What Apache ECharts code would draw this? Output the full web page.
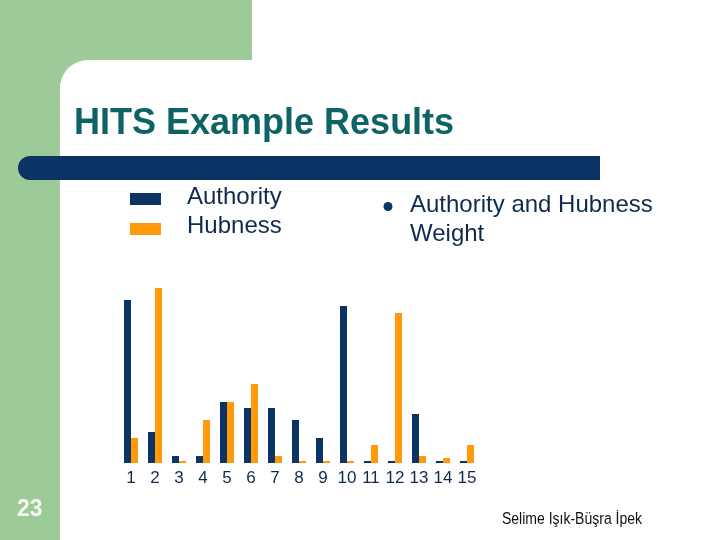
<!DOCTYPE html>
<html>
<head>
<meta charset="utf-8">
<script src="https://cdn.jsdelivr.net/npm/echarts@6/dist/echarts.min.js"></script>
<style>
html,body{margin:0;padding:0;background:#fff;}
#c{width:720px;height:540px;}
</style>
</head>
<body>
<div id="c"></div>
<script>
var categories = ['1','2','3','4','5','6','7','8','9','10','11','12','13','14','15'];
var authority = [163, 31, 7, 7, 61, 55, 55, 43, 25, 157, 2, 2, 49, 2, 2];
var hubness   = [25, 175, 2, 43, 61, 79, 7, 2, 2, 2, 18, 150, 7, 5, 18];
var seriesNames = ['Authority', 'Hubness'];
var titleText = 'HITS Example Results';
var bulletLines = ['Authority and Hubness', 'Weight'];
var pageNumber = '23';
var footerText = 'Selime Işık-Büşra İpek';

var NAVY = '#0B3363', ORANGE = '#FF9A0A', GREEN = '#9CCB99', TEAL = '#0E6464', TXT = '#102A4C';
var FONT = 'Liberation Sans';

function txt(x, y, s, size, color, weight, sy) {
  return {type: 'text', x: x, y: y, z: 10, scaleY: sy || 1, style: {
    text: s, fill: color, fontSize: size, fontWeight: weight || 'normal',
    fontFamily: FONT, align: 'left', verticalAlign: 'middle'
  }};
}

var chart = echarts.init(document.getElementById('c'));
chart.setOption({
  backgroundColor: '#fff',
  animation: false,
  grid: {left: 119, right: 241, top: 283, bottom: 77, containLabel: false},
  xAxis: {
    type: 'category', data: categories,
    axisLine: {show: false}, axisTick: {show: false},
    axisLabel: {color: TXT, fontSize: 17, fontFamily: FONT, margin: 7, interval: 0}
  },
  yAxis: {type: 'value', min: 0, max: 180, show: false, splitLine: {show: false}},
  series: [
    {name: seriesNames[0], type: 'bar', data: authority, barWidth: 7, barGap: '0%', itemStyle: {color: NAVY}},
    {name: seriesNames[1], type: 'bar', data: hubness, barWidth: 7, barGap: '0%', itemStyle: {color: ORANGE}}
  ],
  graphic: [
    {type: 'rect', z: -10, shape: {x: 0, y: 0, width: 252, height: 60}, style: {fill: GREEN}},
    {type: 'rect', z: -10, shape: {x: 0, y: 0, width: 60, height: 540}, style: {fill: GREEN}},
    {type: 'rect', z: -10, shape: {x: 60, y: 60, width: 40, height: 40}, style: {fill: GREEN}},
    {type: 'rect', z: -9, shape: {x: 60, y: 60, width: 660, height: 480, r: [28, 0, 0, 0]}, style: {fill: '#fff'}},
    {type: 'rect', z: -8, shape: {x: 18, y: 156, width: 582, height: 24, r: [12, 0, 0, 12]}, style: {fill: NAVY}},
    txt(74, 124, titleText, 36, TEAL, 'bold'),
    {type: 'rect', shape: {x: 130, y: 193, width: 31, height: 12}, style: {fill: NAVY}},
    {type: 'rect', shape: {x: 130, y: 223, width: 31, height: 12}, style: {fill: ORANGE}},
    txt(187, 197.5, seriesNames[0], 24, TXT),
    txt(187, 226.5, seriesNames[1], 24, TXT),
    {type: 'circle', shape: {cx: 388, cy: 206.5, r: 4.5}, style: {fill: NAVY}},
    txt(410, 205, bulletLines[0], 24, TXT),
    txt(410, 234, bulletLines[1], 24, TXT),
    txt(17, 510, pageNumber, 23, '#F4F8F2', 'bold'),
    txt(502, 519, footerText, 14, '#111', 'normal', 1.18)
  ]
});
</script>
</body>
</html>
